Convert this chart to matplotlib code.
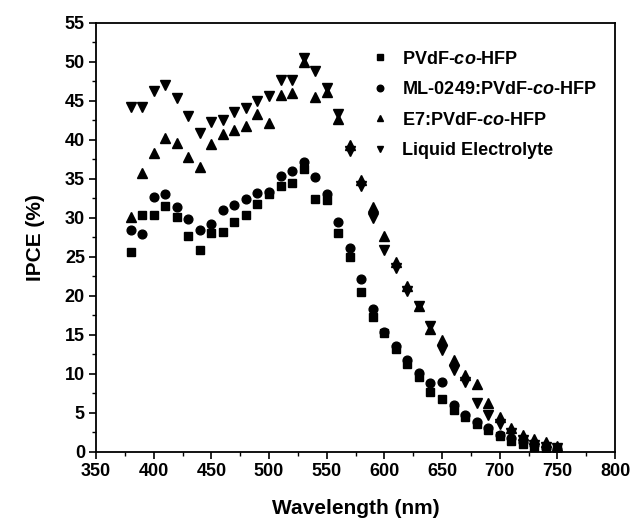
import matplotlib
matplotlib.use("Agg")
import matplotlib.pyplot as plt
from matplotlib.ticker import MultipleLocator

plt.rcParams['font.family'] = ['Liberation Sans', 'DejaVu Sans']
plt.rcParams['font.weight'] = 'bold'
plt.rcParams['mathtext.fontset'] = 'custom'
plt.rcParams['mathtext.bfit'] = 'Liberation Sans:bold:italic'

wavelength = list(range(380, 760, 10))

pvdf = [25.6, 30.3, 30.3, 31.5, 30.1, 27.7, 25.9, 28.0, 28.2, 29.5, 30.4, 31.7, 33.0,
        34.1, 34.5, 36.3, 32.4, 32.3, 28.1, 25.0, 20.5, 17.3, 15.2, 13.2, 11.2, 9.6,
        7.7, 6.8, 5.4, 4.4, 3.6, 2.8, 2.0, 1.4, 1.0, 0.6, 0.4, 0.3]
ml0249 = [28.4, 27.9, 32.7, 33.0, 31.4, 29.8, 28.4, 29.2, 31.0, 31.6, 32.4, 33.2, 33.3,
          35.4, 36.0, 37.2, 35.2, 33.1, 29.4, 26.1, 22.1, 18.3, 15.3, 13.5, 11.8, 10.1,
          8.8, 9.0, 6.0, 4.7, 3.8, 3.0, 2.1, 1.7, 1.2, 0.8, 0.5, 0.4]
e7 = [30.1, 35.7, 38.3, 40.2, 39.6, 37.8, 36.5, 39.4, 40.7, 41.3, 41.8, 43.3, 42.2,
      45.7, 46.0, 50.0, 45.5, 46.1, 42.7, 39.3, 34.8, 31.4, 27.6, 24.3, 21.3, 18.7,
      15.7, 14.3, 11.7, 9.8, 8.7, 6.2, 4.5, 3.0, 2.2, 1.6, 1.2, 0.7]
liquid = [44.2, 44.2, 46.2, 47.0, 45.3, 43.0, 40.8, 42.3, 42.5, 43.5, 44.1, 44.9, 45.6,
          47.7, 47.7, 50.5, 48.8, 46.6, 43.3, 38.6, 34.1, 29.9, 25.8, 23.6, 20.6, 18.7,
          16.1, 13.0, 10.5, 9.0, 6.3, 4.7, 3.6, 2.4, 1.5, 0.9, 0.6, 0.5]

labels = ["PVdF-$\\mathbfit{co}$-HFP", "ML-0249:PVdF-$\\mathbfit{co}$-HFP",
          "E7:PVdF-$\\mathbfit{co}$-HFP", "Liquid Electrolyte"]

fig = plt.figure(figsize=(6.33, 5.30), dpi=100)
ax = fig.add_axes([0.1517, 0.1477, 0.8199, 0.8095])

ax.plot(wavelength, pvdf, 's', color='black', markersize=5.8, linestyle='none', label=labels[0])
ax.plot(wavelength, ml0249, 'o', color='black', markersize=6.3, linestyle='none', label=labels[1])
ax.plot(wavelength, e7, '^', color='black', markersize=6.6, linestyle='none', label=labels[2])
ax.plot(wavelength, liquid, 'v', color='black', markersize=6.6, linestyle='none', label=labels[3])

ax.set_xlim(350, 800)
ax.set_ylim(0, 55)
ax.xaxis.set_major_locator(MultipleLocator(50))
ax.xaxis.set_minor_locator(MultipleLocator(25))
ax.yaxis.set_major_locator(MultipleLocator(5))
ax.yaxis.set_minor_locator(MultipleLocator(2.5))
ax.tick_params(which='major', direction='out', length=5, width=1.2, labelsize=13, pad=3)
ax.tick_params(which='minor', direction='out', length=3, width=1.0)
for lbl in ax.get_xticklabels() + ax.get_yticklabels():
    lbl.set_fontweight('bold')
for sp in ax.spines.values():
    sp.set_linewidth(1.3)

ax.set_xlabel("Wavelength (nm)", fontsize=15, fontweight='bold', labelpad=14)
ax.set_ylabel("IPCE (%)", fontsize=15, fontweight='bold', labelpad=14)

leg = ax.legend(loc='upper left', bbox_to_anchor=(0.5376, 0.935), frameon=False,
                fontsize=13, handlelength=0.6, handletextpad=0.9, labelspacing=0.75,
                borderpad=0, borderaxespad=0, markerscale=0.75)
for t in leg.get_texts():
    t.set_fontweight('bold')

fig.savefig("out.png", dpi=100)
